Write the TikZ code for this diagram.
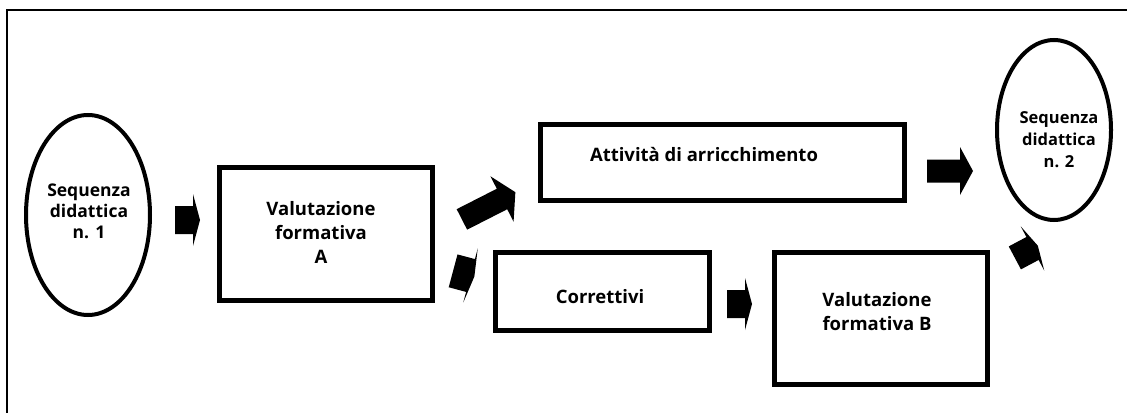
\documentclass[tikz,border=0pt]{standalone}
\usepackage{fontspec}
\setmainfont{Open Sans}
\usetikzlibrary{calc,shapes.geometric}
\begin{document}
\begin{tikzpicture}[x=1pt,y=-1pt,
  box/.style={draw, line width=5pt, rectangle, inner sep=0pt},
  oval/.style={draw, line width=4pt, ellipse, inner sep=0pt},
  boxtext/.style={font=\bfseries\fontsize{18.5}{24}\selectfont, align=center, inner sep=0pt},
  ovaltext/.style={font=\bfseries\fontsize{17.5}{21}\selectfont, align=center, inner sep=0pt},
  % block arrow: origin at the base of the head, pointing along +x
  % #1 shaft length, #2 shaft half width, #3 head half width, #4 head length
  pics/blockarrow/.style n args={4}{code={
    \fill (-#1,-#2) -- (0,-#2) -- (0,-#3) -- (#4,0) -- (0,#3) -- (0,#2) -- (-#1,#2) -- cycle;}},
]
\useasboundingbox (0,0) rectangle (1134,412);

% frame
\draw[line width=2pt] (7,413) -- (7,10) -- (1127,10);

% shapes
\node[oval, minimum width=124pt, minimum height=200pt] (s1) at (88,215) {};
\node[box, minimum width=213pt, minimum height=133pt] (va) at (326,234) {};
\node[box, minimum width=364pt, minimum height=76pt] (att) at (722,162) {};
\node[box, minimum width=214pt, minimum height=78pt] (cor) at (602,291) {};
\node[box, minimum width=213pt, minimum height=132pt] (vb) at (881,318) {};
\node[oval, minimum width=114pt, minimum height=180pt] (s2) at (1054,130) {};

% texts
\node[ovaltext] (t1) at ($(s1.center)+(1,-4)$) {Sequenza\\didattica\\n. 1};
\node[boxtext] (t2) at ($(va.center)+(-5,-2)$) {Valutazione\\formativa\\A};
\node[boxtext] (t3) at ($(att.center)+(-18,-7)$) {Attività di arricchimento};
\node[boxtext] (t4) at ($(cor.center)+(-2,6)$) {Correttivi};
\node[boxtext] (t5) at ($(vb.center)+(-4,-6)$) {Valutazione\\formativa B};
\node[ovaltext, font=\bfseries\fontsize{16.5}{22}\selectfont] (t6) at ($(s2.center)+(5,10)$) {Sequenza\\didattica\\n. 2};

% connecting block arrows
\pic at ($(s1.east)!0.5!(va.west)+(8.5,-4.5)$) {blockarrow={18}{14}{26}{7}};
\pic[rotate=27] at ($(va.east)!0.5!(att.west)+(15.75,1)$) {blockarrow={45}{11.5}{25.5}{15}};
\pic[rotate=-15] at ($(va.east)!0.5!(cor.west)+(6.75,13)$) {blockarrow={18}{17}{28}{4}};
\pic at ($(cor.east)!0.5!(vb.west)+(3.25,-0.5)$) {blockarrow={18}{14}{26}{7}};
\pic at ($(att.east)!0.5!(s2.west)+(9.25,25)$) {blockarrow={33}{11.5}{24}{13}};
\pic[rotate=28] at ($(vb.north east)!0.5!(s2.south)+(10.5,12.75)$) {blockarrow={20}{13}{25}{6}};
\end{tikzpicture}
\end{document}
